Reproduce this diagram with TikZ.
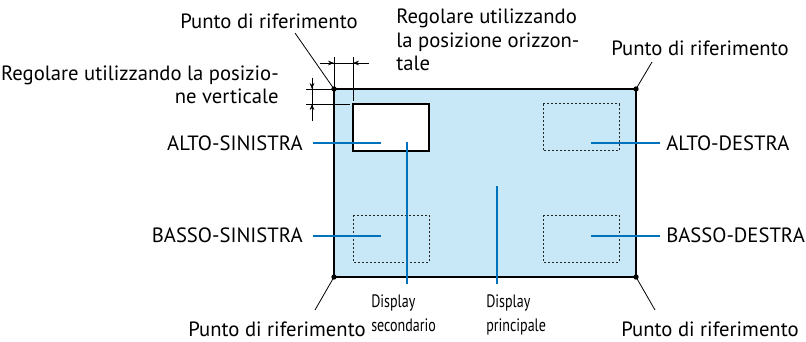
\documentclass[tikz,border=0pt]{standalone}
\usepackage{fontspec}
\usetikzlibrary{arrows.meta}
\setmainfont{PT Sans}
\newfontfamily\narrowfont{PT Sans}[FakeStretch=0.78]
\definecolor{screen}{RGB}{200,232,248}
\definecolor{pointer}{RGB}{0,114,188}
\begin{document}
\begin{tikzpicture}[
    x=0.75pt, y=-0.75pt,
    lbl/.style={font=\fontsize{15.5}{17.5}\selectfont, inner sep=0pt},
    small/.style={font=\narrowfont\fontsize{13.5}{18}\selectfont, inner sep=0pt, align=left, anchor=north west},
    lead/.style={draw=black, line width=0.6pt},
    pointer/.style={draw=pointer, line width=2.2pt},
    dimline/.style={draw=black, line width=0.5pt},
    dimarrow/.style={-{Stealth[length=4.5pt, width=3.5pt]}, draw=black, line width=0.5pt},
    refdot/.style={circle, fill=black, inner sep=0pt, minimum size=4pt},
    subwin/.style={draw=black!85, line width=0.75pt, dash pattern=on 1.7pt off 1.3pt},
]
\useasboundingbox (0,0) rectangle (806,342);

% main display
\draw[fill=screen, line width=0.8pt] (334,89) rectangle (636,277);
\draw[fill=white, line width=0.8pt] (353,104) rectangle (429,151);
\draw[subwin] (543,104) rectangle (619,151);
\draw[subwin] (353,215) rectangle (429,262);
\draw[subwin] (543,215) rectangle (619,262);

% reference points
\node[refdot] (tl) at (334,89) {};
\node[refdot] (tr) at (636,89) {};
\node[refdot] (bl) at (334,277) {};
\node[refdot] (br) at (636,277) {};

\node[lbl] (reftl) at (269,21) {Punto di riferimento};
\node[lbl] (reftr) at (700,48) {Punto di riferimento};
\node[lbl] (refbl) at (277,329) {Punto di riferimento};
\node[lbl] (refbr) at (710,329) {Punto di riferimento};

\coordinate (ltl) at (295,33);
\coordinate (ltr) at (652,62);
\coordinate (lbl) at (315,310);
\coordinate (lbr) at (655,310);
\draw[lead] (ltl) -- (tl.center);
\draw[lead] (ltr) -- (tr.center);
\draw[lead] (lbl) -- (bl.center);
\draw[lead] (lbr) -- (br.center);

% horizontal offset
\coordinate (hx1) at (334,57);
\coordinate (hx2) at (353,57);
\coordinate (hx2b) at (353,101);
\coordinate (ha) at (320,63);
\coordinate (hb) at (334,63);
\coordinate (hc) at (353,63);
\coordinate (hd) at (369,63);
\draw[dimline] (hx1) -- (tl.center);
\draw[dimline] (hx2) -- (hx2b);
\draw[dimline] (ha) -- (hd);
\draw[dimarrow] (ha) -- (hb);
\draw[dimarrow] (hd) -- (hc);

% vertical offset
\coordinate (vy1) at (306,89);
\coordinate (vy2) at (306,104);
\coordinate (vy2b) at (350,104);
\coordinate (va) at (312,78);
\coordinate (vb) at (312,89);
\coordinate (vc) at (312,104);
\coordinate (vd) at (312,121);
\draw[dimline] (vy1) -- (tl.center);
\draw[dimline] (vy2) -- (vy2b);
\draw[dimline] (va) -- (vd);
\draw[dimarrow] (va) -- (vb);
\draw[dimarrow] (vd) -- (vc);

\node[lbl, anchor=west, align=left] (horiz) at (396,40) {Regolare utilizzando\\la posizione orizzon-\\tale};
\node[lbl, anchor=east, align=right] (vert) at (279,85) {Regolare utilizzando la posizio-\\ne verticale};

% position labels
\node[lbl, anchor=east] (as) at (303,143) {ALTO-SINISTRA};
\node[lbl, anchor=east] (bs) at (303,235) {BASSO-SINISTRA};
\node[lbl, anchor=west] (ad) at (666,143) {ALTO-DESTRA};
\node[lbl, anchor=west] (bd) at (666,235) {BASSO-DESTRA};

\coordinate (pas) at (381,143);
\coordinate (pbs) at (381,236);
\coordinate (pad) at (591,143);
\coordinate (pbd) at (591,236);
\draw[pointer] (as.east) ++(10,0) -- (pas);
\draw[pointer] (bs.east) ++(10,1) -- (pbs);
\draw[pointer] (ad.west) ++(-6,0) -- (pad);
\draw[pointer] (bd.west) ++(-6,1) -- (pbd);

% display labels
\node[small] (sec) at (371,294) {Display\\secondario};
\node[small] (prin) at (486,294) {Display\\principale};
\coordinate (psec) at (407,142);
\coordinate (pprin) at (497,186);
\draw[pointer] (sec.north west) ++(36,-10) -- (psec);
\draw[pointer] (prin.north west) ++(11,-10) -- (pprin);
\end{tikzpicture}
\end{document}
